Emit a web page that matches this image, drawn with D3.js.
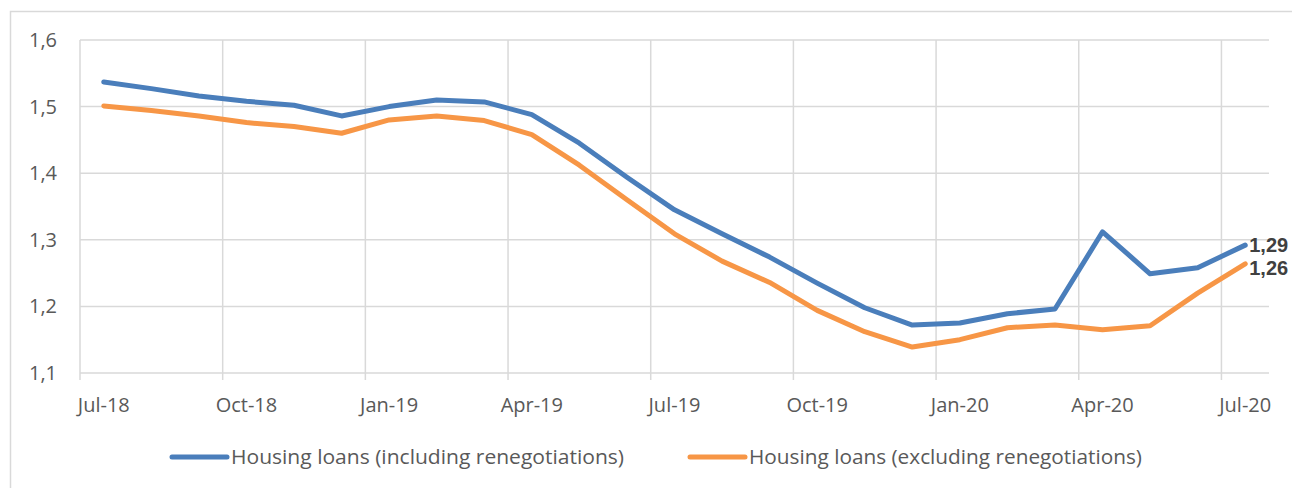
<!DOCTYPE html>
<html lang="en">
<head>
<meta charset="UTF-8">
<title>Housing loans</title>
<script src="https://d3js.org/d3.v7.min.js"></script>
<style>
  html, body { margin: 0; padding: 0; background: #fff; }
  svg { display: block; font-family: "Open Sans", "Noto Sans", sans-serif; }
</style>
</head>
<body>
<svg id="chart"></svg>
<script>
const months = ["Jul-18","Aug-18","Sep-18","Oct-18","Nov-18","Dec-18","Jan-19","Feb-19","Mar-19",
  "Apr-19","May-19","Jun-19","Jul-19","Aug-19","Sep-19","Oct-19","Nov-19","Dec-19",
  "Jan-20","Feb-20","Mar-20","Apr-20","May-20","Jun-20","Jul-20"];
const including = [1.537,1.527,1.516,1.508,1.502,1.486,1.500,1.510,1.507,1.488,1.445,1.394,1.345,
  1.309,1.274,1.235,1.198,1.172,1.175,1.189,1.196,1.312,1.249,1.258,1.292];
const excluding = [1.501,1.494,1.486,1.476,1.470,1.460,1.480,1.486,1.479,1.458,1.412,1.360,1.309,
  1.268,1.236,1.194,1.162,1.139,1.150,1.168,1.172,1.165,1.171,1.220,1.264];
const yTicks = [1.1, 1.2, 1.3, 1.4, 1.5, 1.6];
const seriesNames = ["Housing loans (including renegotiations)", "Housing loans (excluding renegotiations)"];
const endLabels = ["1,29", "1,26"];

const W = 1292, H = 488;
const m = { left: 80, right: 1269, top: 40, bottom: 373 };
const colors = ["#4a7ebb", "#f79646"];
const series = [including, excluding];

const svg = d3.select("#chart").attr("width", W).attr("height", H);

// chart frame
svg.append("rect").attr("x", 10.5).attr("y", 11.5).attr("width", W + 10).attr("height", H + 10)
  .attr("fill", "none").attr("stroke", "#d9d9d9").attr("stroke-width", 1.5);

const x = d3.scaleBand().domain(months).range([m.left, m.right]);
const y = d3.scaleLinear().domain([1.1, 1.6]).range([m.bottom, m.top]);
const cx = d => x(d) + x.bandwidth() / 2;

// horizontal grid
svg.append("g").selectAll("line").data(yTicks).join("line")
  .attr("x1", m.left).attr("x2", m.right)
  .attr("y1", d => y(d)).attr("y2", d => y(d))
  .attr("stroke", "#d9d9d9").attr("stroke-width", 1.5);

// vertical grid every 3 months
const quarterMonths = months.filter((d, i) => i % 3 === 0);
svg.append("g").selectAll("line").data(quarterMonths).join("line")
  .attr("x1", d => x(d)).attr("x2", d => x(d))
  .attr("y1", m.top).attr("y2", m.bottom + 7)
  .attr("stroke", "#d9d9d9").attr("stroke-width", 1.5);

// y labels
svg.append("g").selectAll("text").data(yTicks).join("text")
  .attr("x", 57).attr("y", d => y(d)).attr("dy", "0.35em")
  .attr("text-anchor", "end").attr("font-size", 20).attr("fill", "#595959")
  .text(d => d3.format(".1f")(d).replace(".", ","));

// x labels
svg.append("g").selectAll("text").data(quarterMonths).join("text")
  .attr("x", d => cx(d)).attr("y", 412)
  .attr("text-anchor", "middle").attr("font-size", 20).attr("fill", "#595959")
  .text(d => d);

// lines
const line = d3.line().x((d, i) => cx(months[i])).y(d => y(d));
series.forEach((s, k) => {
  svg.append("path").datum(s).attr("d", line)
    .attr("fill", "none").attr("stroke", colors[k]).attr("stroke-width", 5)
    .attr("stroke-linejoin", "round").attr("stroke-linecap", "round");
});

// end labels
const last = months.length - 1;
const endY = [245, 268];
[including, excluding].forEach((s, k) => {
  svg.append("text").attr("x", cx(months[last]) + 4).attr("y", endY[k]).attr("dy", "0.35em")
    .attr("font-family", "Liberation Sans, Arial, sans-serif")
    .attr("font-size", 20).attr("font-weight", "bold").attr("fill", "#404040").text(endLabels[k]);
});

// legend
const legendX = [172, 690];
seriesNames.forEach((name, k) => {
  const g = svg.append("g").attr("transform", `translate(${legendX[k]},457)`);
  g.append("line").attr("x1", 0).attr("x2", 55).attr("stroke", colors[k])
    .attr("stroke-width", 5).attr("stroke-linecap", "round");
  g.append("text").attr("x", 59).attr("dy", "0.35em").attr("font-size", 20)
    .attr("fill", "#595959").attr("textLength", 393).attr("lengthAdjust", "spacingAndGlyphs").text(name);
});
</script>
</body>
</html>
